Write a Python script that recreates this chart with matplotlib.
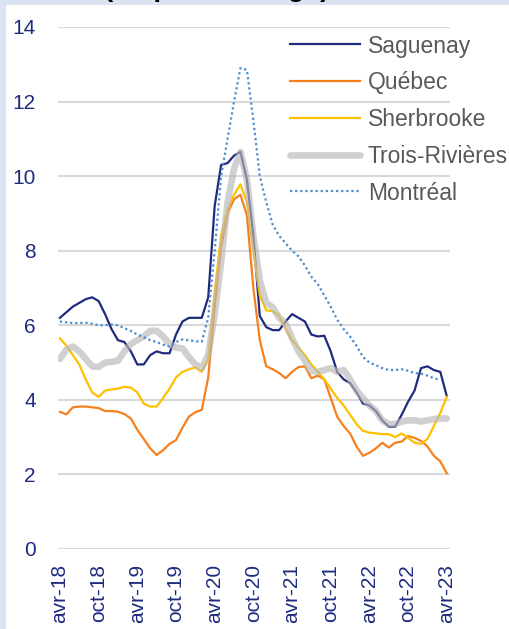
import numpy as np
import matplotlib
matplotlib.use("Agg")
import matplotlib.pyplot as plt
from matplotlib.patches import Rectangle

plt.rcParams['font.family'] = ['Liberation Sans', 'DejaVu Sans']

# monthly values, avr-18 .. avr-23
saguenay = [6.2, 6.35, 6.5, 6.6, 6.7, 6.75, 6.65, 6.3, 5.9, 5.6,
            5.55, 5.3, 4.95, 4.95, 5.2, 5.3, 5.25, 5.25, 5.75, 6.1,
            6.2, 6.2, 6.2, 6.75, 9.2, 10.3, 10.35, 10.55, 10.65, 9.9,
            8.4, 6.25, 5.95, 5.87, 5.87, 6.1, 6.3, 6.2, 6.1, 5.75,
            5.7, 5.72, 5.3, 4.75, 4.55, 4.45, 4.2, 3.9, 3.85, 3.7,
            3.45, 3.28, 3.28, 3.6, 3.95, 4.25, 4.85, 4.9, 4.8, 4.75, 4.1]
quebec = [3.68, 3.61, 3.8, 3.82, 3.82, 3.8, 3.78, 3.7, 3.7, 3.68,
          3.62, 3.5, 3.2, 2.95, 2.7, 2.52, 2.65, 2.82, 2.92, 3.25,
          3.55, 3.67, 3.73, 4.6, 6.5, 8.1, 9.0, 9.38, 9.5, 8.95,
          7.0, 5.6, 4.9, 4.82, 4.72, 4.58, 4.75, 4.88, 4.9, 4.58,
          4.65, 4.55, 4.05, 3.55, 3.3, 3.1, 2.75, 2.5, 2.58, 2.7,
          2.85, 2.72, 2.85, 2.88, 3.03, 2.98, 2.9, 2.75, 2.5, 2.35, 2.03]
sherbrooke = [5.65, 5.45, 5.2, 4.95, 4.55, 4.2, 4.08, 4.25, 4.28, 4.3,
              4.35, 4.33, 4.2, 3.9, 3.82, 3.82, 4.05, 4.3, 4.6, 4.75,
              4.82, 4.87, 4.75, 5.1, 6.9, 8.4, 9.1, 9.5, 9.78, 9.3,
              8.0, 6.8, 6.4, 6.38, 6.25, 5.9, 5.6, 5.4, 5.2, 4.95,
              4.75, 4.55, 4.3, 4.05, 3.85, 3.6, 3.35, 3.17, 3.12, 3.1,
              3.08, 3.08, 3.0, 3.1, 2.98, 2.85, 2.82, 2.95, 3.3, 3.65, 4.08]
trois_rivieres = [5.1, 5.35, 5.43, 5.3, 5.1, 4.9, 4.88, 5.0, 5.02, 5.05,
                  5.3, 5.5, 5.6, 5.7, 5.85, 5.85, 5.7, 5.5, 5.4, 5.38,
                  5.15, 4.95, 4.85, 5.2, 6.3, 7.7, 9.3, 10.2, 10.65, 9.9,
                  8.4, 7.2, 6.6, 6.48, 6.2, 6.05, 5.65, 5.3, 5.05, 4.78,
                  4.75, 4.8, 4.85, 4.75, 4.8, 4.55, 4.25, 4.05, 3.85, 3.7,
                  3.45, 3.35, 3.35, 3.42, 3.45, 3.45, 3.42, 3.45, 3.48, 3.5, 3.5]
montreal = [6.1, 6.08, 6.06, 6.06, 6.07, 6.04, 6.0, 6.0, 6.02, 6.0,
            5.92, 5.85, 5.75, 5.68, 5.6, 5.55, 5.48, 5.43, 5.55, 5.62,
            5.6, 5.57, 5.56, 6.2, 8.0, 10.0, 11.0, 12.0, 12.9, 12.85,
            11.5, 10.0, 9.3, 8.7, 8.4, 8.2, 8.0, 7.85, 7.6, 7.3,
            7.1, 6.8, 6.5, 6.15, 5.9, 5.7, 5.45, 5.15, 5.0, 4.93,
            4.85, 4.8, 4.8, 4.82, 4.78, 4.72, 4.7, 4.65, 4.58, 4.53, np.nan]

tick_labels = ['avr-18', 'oct-18', 'avr-19', 'oct-19', 'avr-20', 'oct-20',
               'avr-21', 'oct-21', 'avr-22', 'oct-22', 'avr-23']

x = np.arange(len(saguenay))
navy = '#1f2c7e'

fig = plt.figure(figsize=(5.09, 6.29), dpi=100)
fig.patch.set_facecolor('#dbe3f2')
fig.patches.append(Rectangle((6 / 509, 0), 1, 1 - 5 / 629, transform=fig.transFigure,
                             facecolor='white', edgecolor='none', zorder=-10))
# title mostly cropped at the top, as in the source image
fig.text(217 / 509, 1 + 3.5 / 629, '(en pourcentage)', ha='center', va='baseline',
         fontsize=20, fontweight='bold', color='black')

ax = fig.add_axes([58 / 509, 1 - 549 / 629, 392 / 509, 522 / 629])
ax.set_facecolor('none')

ax.plot(x, saguenay, color=navy, lw=1.6, label='Saguenay', zorder=3)
ax.plot(x, quebec, color='#f7801e', lw=1.6, label='Québec', zorder=3)
ax.plot(x, sherbrooke, color='#ffc000', lw=1.6, label='Sherbrooke', zorder=3)
ax.plot(x, trois_rivieres, color='#b8b8b8', lw=4.8, alpha=0.65,
        solid_capstyle='round', label='Trois-Rivières', zorder=4)
ax.plot(x, montreal, color='#4a8ccf', lw=1.6, ls=(0, (1, 1.3)), label='Montréal', zorder=5)

ax.set_ylim(0, 14)
ax.set_yticks(range(0, 15, 2))
ax.set_xlim(-0.3, 60.5)
ax.set_xticks(range(0, 61, 6))
ax.set_xticklabels(tick_labels, rotation=90)
ax.grid(axis='y', color='#d9d9d9', lw=1.5)
ax.set_axisbelow(True)
for s in ax.spines.values():
    s.set_visible(False)
ax.tick_params(axis='y', length=0, pad=16, labelsize=15, labelcolor=navy)
ax.tick_params(axis='x', length=0, pad=11, labelsize=15, labelcolor=navy)

leg = ax.legend(loc='upper left', bbox_to_anchor=(290 / 509, 1 - 34.5 / 629),
                bbox_transform=fig.transFigure, frameon=False, fontsize=16.5,
                handlelength=3.05, handletextpad=0.35, labelspacing=0.6,
                borderpad=0, borderaxespad=0)
for t in leg.get_texts():
    t.set_color('#595959')

fig.savefig('out.png', dpi=100, facecolor=fig.get_facecolor())
